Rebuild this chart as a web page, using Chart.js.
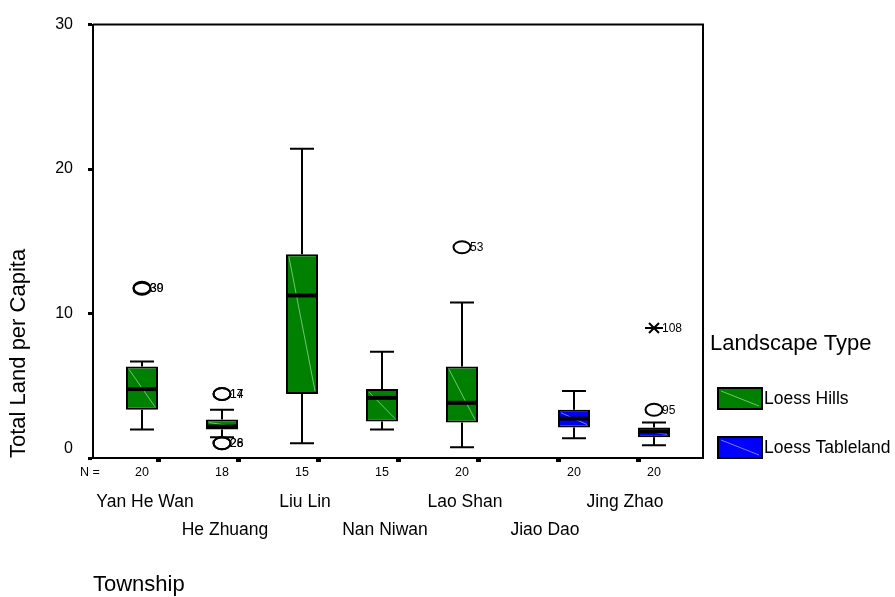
<!DOCTYPE html>
<html>
<head>
<meta charset="utf-8">
<title>Total Land per Capita by Township</title>
<script src="https://cdn.jsdelivr.net/npm/chart.js@4.4.1/dist/chart.umd.min.js"></script>
<style>
  html, body { margin: 0; padding: 0; background: #fff; }
  #wrap { width: 895px; height: 597px; }
</style>
</head>
<body>
<div id="wrap"><canvas id="landChart"></canvas></div>
<script>
const townships = ["Yan He Wan", "He Zhuang", "Liu Lin", "Nan Niwan", "Lao Shan", "Jiao Dao", "Jing Zhao"];
const landscapes = ["Loess Hills", "Loess Tableland"];
const landscapeOf = [0, 0, 0, 0, 0, 1, 1];
const caseCounts = [20, 18, 15, 15, 20, 20, 20];

// box plot statistics per township
const whiskerLow = [1.98, 1.43, 1.02, 1.98, 0.75, 1.36, 0.89];
const quartile1 = [3.34, 1.98, 4.43, 2.52, 2.45, 2.11, 1.43];
const medians = [4.77, 2.18, 11.25, 4.16, 3.82, 2.73, 1.84];
const quartile3 = [6.34, 2.66, 14.11, 4.77, 6.34, 3.34, 2.11];
const whiskerHigh = [6.68, 3.34, 21.4, 7.36, 10.77, 4.64, 2.45];

// outliers (circles) and extremes (crosses)
const outlierTownship = [0, 0, 1, 1, 1, 1, 4, 6, 6];
const outlierValue = [11.72, 11.78, 4.43, 4.43, 1.02, 1.02, 14.59, 9.0, 3.34];
const outlierCase = ["30", "39", "14", "17", "26", "28", "53", "108", "95"];
const outlierExtreme = [false, false, false, false, false, false, false, true, false];

const yTicks = [0, 10, 20, 30];

const FONT = "'Liberation Sans', Arial, Helvetica, sans-serif";
const fills = ["#008000", "#0000ff"];
const streaks = ["#74c274", "#7a7aff"];

const boxDatasets = landscapes.map((name, g) => ({
  label: name,
  data: townships
    .map((t, i) => ({ x: i + 1, y: [quartile1[i], quartile3[i]], idx: i }))
    .filter(d => landscapeOf[d.idx] === g),
  backgroundColor: fills[g],
  borderColor: "#000",
  borderWidth: 2,
  borderSkipped: false,
  categoryPercentage: 0.8,
  barPercentage: 1
}));

function boxCenters(chart) {
  const centers = [];
  chart.data.datasets.forEach((ds, g) => {
    chart.getDatasetMeta(g).data.forEach((bar, j) => {
      const p = bar.getProps(["x", "width"], true);
      centers[ds.data[j].idx] = { x: p.x, w: p.width, g };
    });
  });
  return centers;
}

const boxplotMarks = {
  id: "boxplotMarks",
  afterDatasetsDraw(chart) {
    const { ctx, scales: { y } } = chart;
    const centers = boxCenters(chart);
    ctx.save();
    centers.forEach((c, i) => {
      const left = c.x - c.w / 2, right = c.x + c.w / 2;
      const top = y.getPixelForValue(quartile3[i]);
      const bottom = y.getPixelForValue(quartile1[i]);
      const hi = y.getPixelForValue(whiskerHigh[i]);
      const lo = y.getPixelForValue(whiskerLow[i]);
      const mid = y.getPixelForValue(medians[i]);

      ctx.strokeStyle = streaks[c.g];
      ctx.lineWidth = 1;
      ctx.beginPath();
      ctx.moveTo(left + 3, top + 3);
      ctx.lineTo(right - 3, bottom - 3);
      ctx.stroke();

      ctx.strokeStyle = "#000";
      ctx.lineWidth = 2;
      ctx.beginPath();
      ctx.moveTo(c.x, top); ctx.lineTo(c.x, hi);
      ctx.moveTo(c.x - 12, hi); ctx.lineTo(c.x + 12, hi);
      ctx.moveTo(c.x, bottom); ctx.lineTo(c.x, lo);
      ctx.moveTo(c.x - 12, lo); ctx.lineTo(c.x + 12, lo);
      ctx.stroke();

      ctx.lineWidth = 4;
      ctx.beginPath();
      ctx.moveTo(left + 1, mid); ctx.lineTo(right - 1, mid);
      ctx.stroke();
    });

    ctx.font = "12px " + FONT;
    ctx.textAlign = "left";
    ctx.textBaseline = "middle";
    ctx.fillStyle = "#000";
    outlierValue.forEach((v, k) => {
      const cx = centers[outlierTownship[k]].x;
      const cy = y.getPixelForValue(v);
      ctx.strokeStyle = "#000";
      ctx.lineWidth = 2;
      ctx.beginPath();
      if (outlierExtreme[k]) {
        ctx.moveTo(cx - 5, cy - 5); ctx.lineTo(cx + 5, cy + 5);
        ctx.moveTo(cx + 5, cy - 5); ctx.lineTo(cx - 5, cy + 5);
        ctx.moveTo(cx - 9, cy); ctx.lineTo(cx + 9, cy);
      } else {
        ctx.ellipse(cx, cy, 8.5, 6, 0, 0, Math.PI * 2);
      }
      ctx.stroke();
      ctx.fillText(outlierCase[k], cx + 8, cy + 0.5);
    });
    ctx.restore();
  },
  afterDraw(chart) {
    const { ctx, chartArea: area, scales: { x } } = chart;
    const centers = boxCenters(chart);
    ctx.save();

    // frame on top and right of the plot
    ctx.strokeStyle = "#000";
    ctx.lineWidth = 2;
    ctx.beginPath();
    ctx.moveTo(area.left, area.top);
    ctx.lineTo(area.right, area.top);
    ctx.lineTo(area.right, area.bottom);
    ctx.stroke();

    ctx.fillStyle = "#000";
    ctx.textBaseline = "middle";

    // case counts under each box
    ctx.font = "12.5px " + FONT;
    ctx.textAlign = "center";
    ctx.fillText("N =", area.left - 3, area.bottom + 15);
    centers.forEach((c, i) => ctx.fillText(String(caseCounts[i]), c.x, area.bottom + 15));

    // township names, alternating rows
    ctx.font = "17.5px " + FONT;
    townships.forEach((t, i) => {
      const px = x.getPixelForValue(i + 1) - 13;
      ctx.fillText(t, px, area.bottom + (i % 2 ? 72 : 44));
    });

    ctx.font = "22px " + FONT;
    ctx.textAlign = "left";
    ctx.fillText("Township", area.left, area.bottom + 127);

    // legend
    ctx.fillText("Landscape Type", area.right + 7, area.bottom - 114);
    ctx.font = "17.5px " + FONT;
    landscapes.forEach((name, g) => {
      const top = area.bottom - 70 + g * 49;
      const lx = area.right + 15;
      ctx.fillStyle = fills[g];
      ctx.fillRect(lx, top, 44, 21);
      ctx.strokeStyle = streaks[g];
      ctx.lineWidth = 1;
      ctx.beginPath();
      ctx.moveTo(lx + 3, top + 3);
      ctx.lineTo(lx + 41, top + 18);
      ctx.stroke();
      ctx.strokeStyle = "#000";
      ctx.lineWidth = 2;
      ctx.strokeRect(lx, top, 44, 21);
      ctx.fillStyle = "#000";
      ctx.fillText(name, lx + 46, top + 11);
    });
    ctx.restore();
  }
};

new Chart(document.getElementById("landChart"), {
  type: "bar",
  data: { datasets: boxDatasets },
  options: {
    responsive: true,
    maintainAspectRatio: false,
    animation: false,
    events: [],
    layout: { padding: { top: 18, right: 192, bottom: 0, left: 0 } },
    plugins: {
      legend: { display: false },
      tooltip: { enabled: false }
    },
    scales: {
      x: {
        type: "linear",
        min: 0.1875,
        max: 7.8125,
        offset: false,
        afterBuildTicks: scale => {
          scale.ticks = townships.map((t, i) => ({ value: i + 1 }));
        },
        afterFit: scale => { scale.height = 139; },
        ticks: { display: false },
        grid: {
          offset: false,
          drawOnChartArea: false,
          drawTicks: true,
          tickLength: 4,
          tickWidth: 5,
          tickColor: "#000"
        },
        border: { display: true, color: "#000", width: 2 }
      },
      y: {
        type: "linear",
        min: 0,
        max: 30,
        afterBuildTicks: scale => {
          scale.ticks = yTicks.map(v => ({ value: v }));
        },
        afterFit: scale => { scale.width = 93; },
        ticks: {
          color: "#000",
          padding: 15,
          font: { family: FONT, size: 16 },
          callback: v => (v === 0 ? ["0", ""] : String(v))
        },
        grid: {
          drawOnChartArea: false,
          drawTicks: true,
          tickLength: 5,
          tickWidth: 3,
          tickColor: "#000"
        },
        border: { display: true, color: "#000", width: 2 },
        title: {
          display: true,
          text: "Total Land per Capita",
          color: "#000",
          align: "start",
          padding: { top: 6, bottom: 0 },
          font: { family: FONT, size: 22 }
        }
      }
    }
  },
  plugins: [boxplotMarks]
});
</script>
</body>
</html>
